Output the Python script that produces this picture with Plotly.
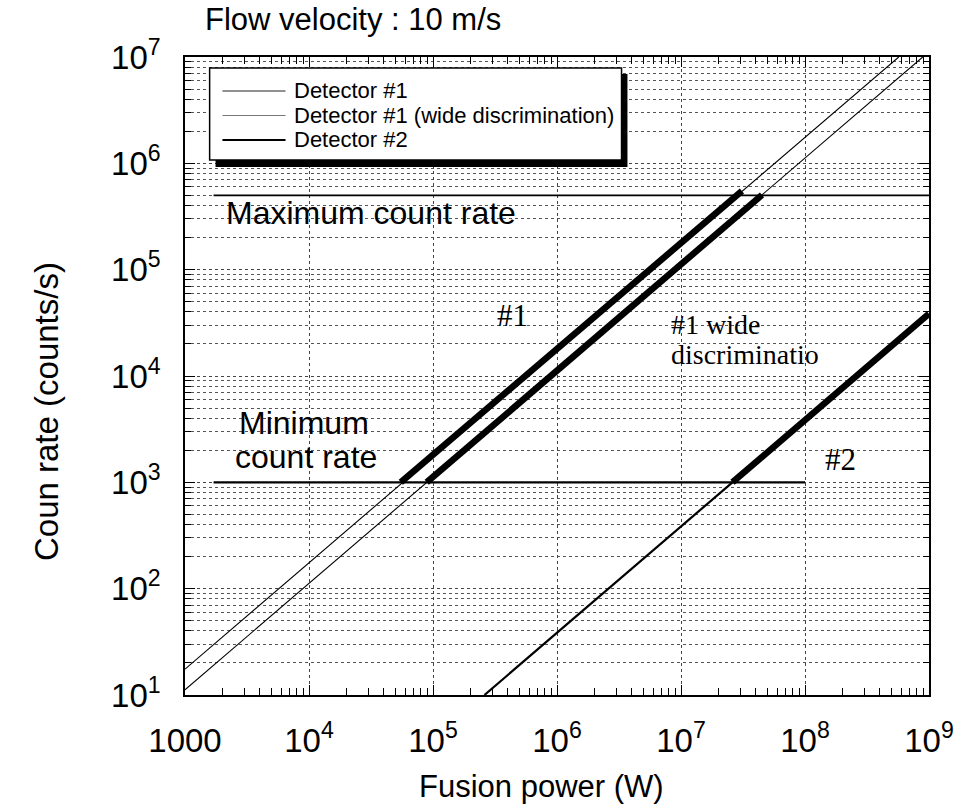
import plotly.graph_objects as go

# ---------------- data ----------------
# Detector #1 (thin full line, all power range)
det1_thin_power = [1.0e3, 5.7e8]
det1_thin_rate = [17.5, 1.0e7]
# Detector #1 wide discrimination (thin full line)
det1w_thin_power = [1.0e3, 8.9e8]
det1w_thin_rate = [11.2, 1.0e7]
# Detector #2 (medium line below minimum count rate)
det2_thin_power = [2.6e5, 2.6e7]
det2_thin_rate = [10.0, 1.0e3]
# usable ranges (thick segments)
det1_thick_power = [5.5e4, 3.1e7]
det1_thick_rate = [1.0e3, 5.5e5]
det1w_thick_power = [8.9e4, 4.5e7]
det1w_thick_rate = [1.0e3, 5.05e5]
det2_thick_power = [2.6e7, 1.0e9]
det2_thick_rate = [1.0e3, 3.85e4]
# count-rate limits
max_rate_power = [1.7e3, 1.0e9]
max_rate_value = [5.0e5, 5.0e5]
min_rate_power = [1.7e3, 1.0e8]
min_rate_value = [1.0e3, 1.0e3]

x_tick_vals = [1e3, 1e4, 1e5, 1e6, 1e7, 1e8, 1e9]
x_tick_text = ["1000", "10<sup>4</sup>", "10<sup>5</sup>", "10<sup>6</sup>",
               "10<sup>7</sup>", "10<sup>8</sup>", "10<sup>9</sup>"]
y_tick_vals = [1e1, 1e2, 1e3, 1e4, 1e5, 1e6, 1e7]
y_tick_text = ["10<sup>1</sup>", "10<sup>2</sup>", "10<sup>3</sup>", "10<sup>4</sup>",
               "10<sup>5</sup>", "10<sup>6</sup>", "10<sup>7</sup>"]

legend_labels = ["Detector #1", "Detector #1 (wide discrimination)", "Detector #2"]

SANS = "Liberation Sans, Arial, Helvetica, sans-serif"
SERIF = "Liberation Serif, Times New Roman, serif"

# plot-area pixel geometry (for paper-coordinate decorations)
L, R, T, B = 185, 940, 57, 695
W, H = 966, 808


def px(xp):
    return (xp - L) / (R - L)


def py(yp):
    return (B - yp) / (B - T)


fig = go.Figure()


def add_line(xs, ys, width, name):
    fig.add_trace(go.Scatter(x=xs, y=ys, mode="lines", name=name,
                             line=dict(color="black", width=width),
                             showlegend=False, hoverinfo="skip"))


add_line(det1_thin_power, det1_thin_rate, 1.1, "Detector #1")
add_line(det1w_thin_power, det1w_thin_rate, 1.1, "Detector #1 (wide discrimination)")
add_line(det2_thin_power, det2_thin_rate, 2.2, "Detector #2")
add_line(max_rate_power, max_rate_value, 1.6, "Maximum count rate")
add_line(min_rate_power, min_rate_value, 2.2, "Minimum count rate")
add_line(det1_thick_power, det1_thick_rate, 6.5, "Detector #1 usable")
add_line(det1w_thick_power, det1w_thick_rate, 6.5, "Detector #1 wide usable")
add_line(det2_thick_power, det2_thick_rate, 6.5, "Detector #2 usable")

shapes = []
# white boxes behind labels (between gridlines and traces)
for (x0, x1, y0, y1) in [(482, 568, 287, 345), (657, 862, 288, 372), (813, 903, 428, 482)]:
    shapes.append(dict(type="rect", xref="paper", yref="paper", layer="between",
                       x0=px(x0), x1=px(x1), y0=py(y1), y1=py(y0),
                       fillcolor="white", line=dict(width=0)))

# legend box with drop shadow
lx0, lx1, ly0, ly1 = 210, 628, 68, 160
shapes.append(dict(type="rect", xref="paper", yref="paper", layer="above",
                   x0=px(lx0 + 6), x1=px(lx1 + 6), y0=py(ly1 + 7), y1=py(ly0 + 6),
                   fillcolor="black", line=dict(width=0)))
shapes.append(dict(type="rect", xref="paper", yref="paper", layer="above",
                   x0=px(lx0), x1=px(lx1), y0=py(ly1), y1=py(ly0),
                   fillcolor="white", line=dict(color="black", width=1.5)))
leg_rows = [91, 115.5, 140]
leg_widths = [1.0, 1.0, 2.2]
leg_colors = ["#222", "#777", "black"]
for yy, ww, cc in zip(leg_rows, leg_widths, leg_colors):
    shapes.append(dict(type="line", xref="paper", yref="paper", layer="above",
                       x0=px(223), x1=px(287), y0=py(yy), y1=py(yy),
                       line=dict(color=cc, width=ww)))

annotations = []
for yy, txt in zip(leg_rows, legend_labels):
    annotations.append(dict(xref="paper", yref="paper", x=px(294), y=py(yy),
                            text=txt, showarrow=False, xanchor="left", yanchor="middle",
                            font=dict(family=SANS, size=22, color="black")))

annotations += [
    dict(xref="paper", yref="paper", x=px(203), y=py(19), text="Flow velocity : 10 m/s",
         showarrow=False, xanchor="left", yanchor="middle",
         font=dict(family=SANS, size=31, color="black")),
    dict(xref="paper", yref="paper", x=px(225), y=py(213), text="Maximum count rate",
         showarrow=False, xanchor="left", yanchor="middle",
         font=dict(family=SANS, size=32, color="black")),
    dict(xref="paper", yref="paper", x=px(306), y=py(423), text="Minimum",
         showarrow=False, xanchor="center", yanchor="middle",
         font=dict(family=SANS, size=32, color="black")),
    dict(xref="paper", yref="paper", x=px(308), y=py(457), text="count rate",
         showarrow=False, xanchor="center", yanchor="middle",
         font=dict(family=SANS, size=32, color="black")),
    dict(xref="paper", yref="paper", x=px(517), y=py(315), text="#1",
         showarrow=False, xanchor="center", yanchor="middle",
         font=dict(family=SERIF, size=31, color="black")),
    dict(xref="paper", yref="paper", x=px(676), y=py(324), text="#1 wide",
         showarrow=False, xanchor="left", yanchor="middle",
         font=dict(family=SERIF, size=28, color="black")),
    dict(xref="paper", yref="paper", x=px(676), y=py(354), text="discriminatio",
         showarrow=False, xanchor="left", yanchor="middle",
         font=dict(family=SERIF, size=28, color="black")),
    dict(xref="paper", yref="paper", x=px(850), y=py(459), text="#2",
         showarrow=False, xanchor="center", yanchor="middle",
         font=dict(family=SERIF, size=31, color="black")),
    # axis titles
    dict(xref="paper", yref="paper", x=px(547), y=py(786), text="Fusion power (W)",
         showarrow=False, xanchor="center", yanchor="middle",
         font=dict(family=SANS, size=31, color="black")),
    dict(xref="paper", yref="paper", x=px(44), y=py(412), text="Coun rate (counts/s)",
         showarrow=False, xanchor="center", yanchor="middle", textangle=-90,
         font=dict(family=SANS, size=33, color="black")),
]

grid_style = dict(showgrid=True, gridcolor="#444", gridwidth=1, griddash="3px,3px")

fig.update_layout(
    width=W, height=H,
    margin=dict(l=L, r=W - R, t=T, b=H - B),
    paper_bgcolor="white", plot_bgcolor="white",
    showlegend=False,
    shapes=shapes, annotations=annotations,
    xaxis=dict(type="log", range=[3, 9], tickmode="array",
               tickvals=x_tick_vals, ticktext=x_tick_text,
               ticks="inside", ticklen=10, tickwidth=1, tickcolor="black",
               showline=True, linecolor="black", linewidth=1.5, mirror="ticks",
               zeroline=False, ticklabelstandoff=16,
               tickfont=dict(family=SANS, size=33, color="black"),
               minor=dict(ticks="inside", ticklen=7, tickcolor="black", dtick="D1",
                          showgrid=False),
               **grid_style),
    yaxis=dict(type="log", range=[1, 7], tickmode="array",
               tickvals=y_tick_vals, ticktext=y_tick_text,
               ticks="inside", ticklen=10, tickwidth=1, tickcolor="black",
               showline=True, linecolor="black", linewidth=1.5, mirror="ticks",
               zeroline=False, ticklabelstandoff=16,
               tickfont=dict(family=SANS, size=33, color="black"),
               minor=dict(ticks="inside", ticklen=6, tickcolor="black", dtick="D1",
                          showgrid=True, gridcolor="#555", gridwidth=1, griddash="3px,3px"),
               **grid_style),
)

fig.write_html("out.html")
